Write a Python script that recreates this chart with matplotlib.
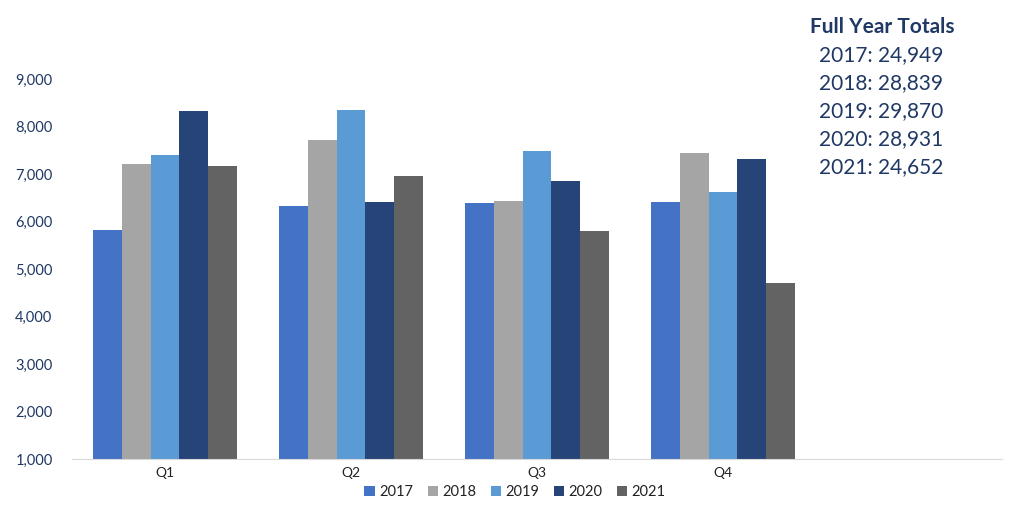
import matplotlib
matplotlib.use("Agg")
import matplotlib.pyplot as plt
import numpy as np

quarters = ["Q1", "Q2", "Q3", "Q4", ""]
years = ["2017", "2018", "2019", "2020", "2021"]
v2017 = [5820, 6320, 6400, 6410]
v2018 = [7220, 7720, 6440, 7450]
v2019 = [7400, 8350, 7490, 6620]
v2020 = [8320, 6410, 6860, 7320]
v2021 = [7160, 6950, 5810, 4710]
series = [v2017, v2018, v2019, v2020, v2021]
colors = ["#4472C4", "#A5A5A5", "#5B9BD5", "#264478", "#636363"]
totals = ["24,949", "28,839", "29,870", "28,931", "24,652"]
yticks = [1000, 2000, 3000, 4000, 5000, 6000, 7000, 8000, 9000]

plt.rcParams['font.family'] = ['Lato', 'DejaVu Sans']
fig = plt.figure(figsize=(10.24, 5.16), dpi=100)
ax = fig.add_axes([72/1024, 57/516, 930/1024, 380/516])

w = 0.154
x = np.arange(4)
for i, (s, c, y) in enumerate(zip(series, colors, years)):
    ax.bar(x + (i - 2) * w, np.array(s) - 1000, width=w, bottom=1000, color=c, label=y)

ax.set_xlim(-0.5, 4.5)
ax.set_ylim(1000, 9000)
ax.set_xticks(np.arange(5))
ax.set_xticklabels(quarters, fontsize=10, color="#222222")
ax.set_yticks(yticks)
ax.set_yticklabels([f"{t:,}" for t in yticks], fontsize=10.5, color="#1F3864")
ax.tick_params(axis='both', length=0)
ax.tick_params(axis='y', pad=14)
ax.tick_params(axis='x', pad=6)
for sp in ["top", "right", "left"]:
    ax.spines[sp].set_visible(False)
ax.spines["bottom"].set_color("#D9D9D9")

leg = fig.legend(loc="center", bbox_to_anchor=(515/1024, 1 - 492/516), ncol=5, frameon=False,
                 fontsize=10.5, handlelength=0.7, handleheight=0.7, handletextpad=0.3,
                 columnspacing=1.0)
for t in leg.get_texts():
    t.set_color("#222222")

fig.text(810/1024, 1 - 27/516, "Full Year Totals", fontsize=15, fontweight="bold",
         color="#1F3864", va="center", ha="left")
for i, (y, t) in enumerate(zip(years, totals)):
    fig.text(819/1024, 1 - (55 + 28 * i)/516, f"{y}: {t}", fontsize=15,
             color="#1F3864", va="center", ha="left")

fig.savefig("out.png", dpi=100)
